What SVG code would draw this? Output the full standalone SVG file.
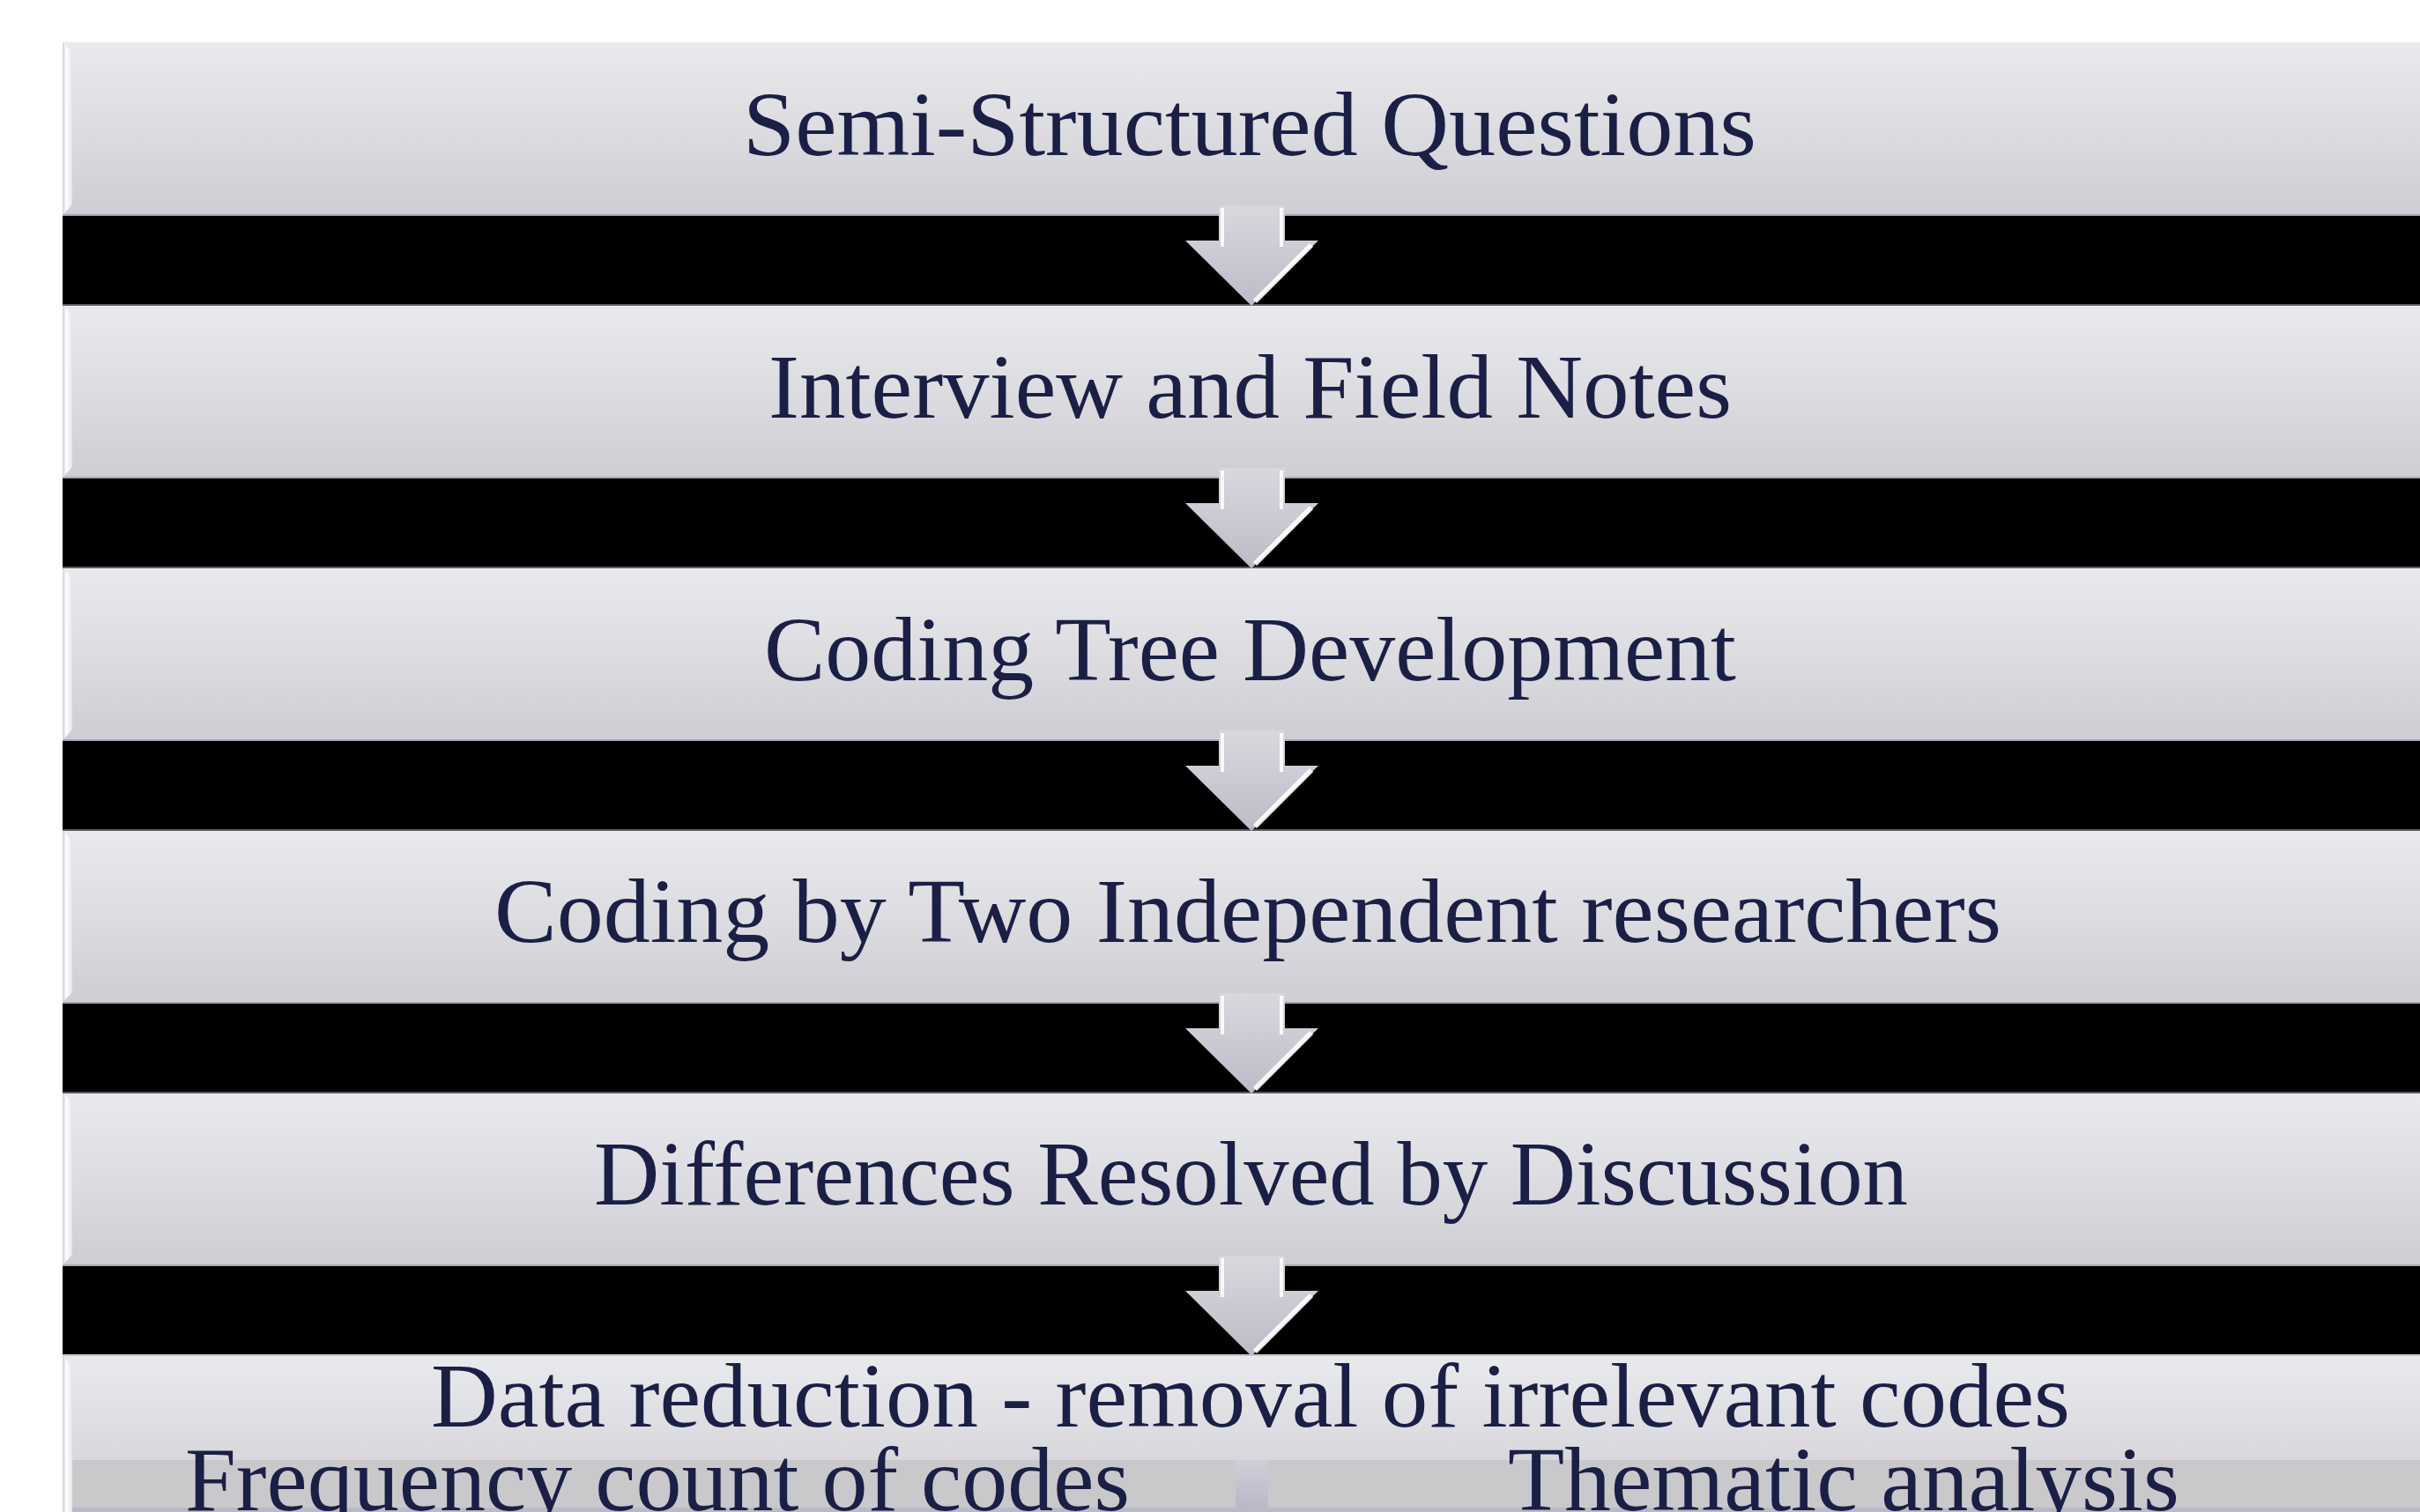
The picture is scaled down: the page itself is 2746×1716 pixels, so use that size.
<svg xmlns="http://www.w3.org/2000/svg" width="2746" height="1716" viewBox="0 0 2746 1716">
<defs>
<linearGradient id="barG" x1="0" y1="0" x2="0" y2="1">
<stop offset="0" stop-color="#e9eaee"/>
<stop offset="0.5" stop-color="#dcdce1"/>
<stop offset="1" stop-color="#cdcdd3"/>
</linearGradient>
<linearGradient id="bevG" x1="0" y1="0" x2="1" y2="0">
<stop offset="0" stop-color="#d0d0d8"/>
<stop offset="0.4" stop-color="#ffffff"/>
<stop offset="1" stop-color="#e4e4ea"/>
</linearGradient>
<linearGradient id="arrG" x1="0" y1="0" x2="0" y2="1">
<stop offset="0" stop-color="#d8d8de"/>
<stop offset="1" stop-color="#bcbcc8"/>
</linearGradient>
<linearGradient id="gapG" x1="0" y1="0" x2="0" y2="1">
<stop offset="0" stop-color="#d0d0d8"/>
<stop offset="1" stop-color="#b8b8c8"/>
</linearGradient>
<g id="arrow">
<polygon points="1383,233 1458,233 1458,273 1496,273 1420,347 1345,273 1383,273" fill="url(#arrG)"/>
<line x1="1387" y1="236" x2="1387" y2="280" stroke="#ffffff" stroke-width="4" opacity="0.9"/>
<line x1="1454" y1="236" x2="1454" y2="280" stroke="#ffffff" stroke-width="4" opacity="0.9"/>
<line x1="1488" y1="278" x2="1424" y2="342" stroke="#ffffff" stroke-width="6" opacity="0.9"/>
</g>
</defs>
<style>
.bar{fill:url(#barG)}
.bev{fill:url(#bevG)}
.band{fill:#000000}
.t{font-family:"Liberation Serif","Times New Roman",serif;font-size:103px;fill:#1b1f45;text-anchor:start}
</style>
<rect x="0" y="0" width="2746" height="1716" fill="#ffffff"/>
<g id="bands">
<rect class="band" x="71" y="244" width="2675" height="102"/>
<rect class="band" x="71" y="542" width="2675" height="102"/>
<rect class="band" x="71" y="840" width="2675" height="102"/>
<rect class="band" x="71" y="1138" width="2675" height="102"/>
<rect class="band" x="71" y="1436" width="2675" height="102"/>
</g>
<g id="node1">
<rect class="bar" x="71" y="48" width="2675" height="196"/>
<polygon class="bev" points="71,48 82,60 82,232 71,244"/>
<line x1="71" y1="244" x2="2746" y2="244" stroke="#a8a8b0" stroke-width="2"/>
<text class="t" x="843" y="176" textLength="1150" lengthAdjust="spacingAndGlyphs">Semi-Structured Questions</text>
</g>
<g id="node2">
<rect class="bar" x="71" y="346" width="2675" height="196"/>
<polygon class="bev" points="71,346 82,358 82,530 71,542"/>
<line x1="71" y1="346" x2="2746" y2="346" stroke="#5a5a60" stroke-width="2"/>
<line x1="71" y1="542" x2="2746" y2="542" stroke="#a8a8b0" stroke-width="2"/>
<text class="t" x="872" y="474" textLength="1093" lengthAdjust="spacingAndGlyphs">Interview and Field Notes</text>
</g>
<g id="node3">
<rect class="bar" x="71" y="644" width="2675" height="196"/>
<polygon class="bev" points="71,644 82,656 82,828 71,840"/>
<line x1="71" y1="644" x2="2746" y2="644" stroke="#5a5a60" stroke-width="2"/>
<line x1="71" y1="840" x2="2746" y2="840" stroke="#a8a8b0" stroke-width="2"/>
<text class="t" x="867" y="772" textLength="1103" lengthAdjust="spacingAndGlyphs">Coding Tree Development</text>
</g>
<g id="node4">
<rect class="bar" x="71" y="942" width="2675" height="196"/>
<polygon class="bev" points="71,942 82,954 82,1126 71,1138"/>
<line x1="71" y1="942" x2="2746" y2="942" stroke="#5a5a60" stroke-width="2"/>
<line x1="71" y1="1138" x2="2746" y2="1138" stroke="#a8a8b0" stroke-width="2"/>
<text class="t" x="561" y="1069" textLength="1710" lengthAdjust="spacingAndGlyphs">Coding by Two Independent researchers</text>
</g>
<g id="node5">
<rect class="bar" x="71" y="1240" width="2675" height="196"/>
<polygon class="bev" points="71,1240 82,1252 82,1424 71,1436"/>
<line x1="71" y1="1240" x2="2746" y2="1240" stroke="#5a5a60" stroke-width="2"/>
<line x1="71" y1="1436" x2="2746" y2="1436" stroke="#a8a8b0" stroke-width="2"/>
<text class="t" x="674" y="1367" textLength="1491" lengthAdjust="spacingAndGlyphs">Differences Resolved by Discussion</text>
</g>
<g id="node6">
<rect class="bar" x="71" y="1538" width="2675" height="178"/>
<polygon class="bev" points="71,1538 82,1550 82,1716 71,1716"/>
<line x1="71" y1="1538" x2="2746" y2="1538" stroke="#c8c8cc" stroke-width="2"/>
<rect x="82" y="1657" width="1320" height="54" fill="#c9c9cc"/>
<rect x="1439" y="1657" width="1307" height="54" fill="#c9c9cc"/>
<rect x="1402" y="1657" width="37" height="54" fill="url(#gapG)"/>
<rect x="82" y="1711" width="2664" height="5" fill="#b9b9c8"/>
<text class="t" x="489" y="1619" textLength="1860" lengthAdjust="spacingAndGlyphs">Data reduction - removal of irrelevant codes</text>
<text class="t" x="210" y="1714" textLength="1072" lengthAdjust="spacingAndGlyphs">Frequency count of codes</text>
<text class="t" x="1711" y="1714" textLength="762" lengthAdjust="spacingAndGlyphs">Thematic analysis</text>
</g>
<g id="connectors">
<use href="#arrow"/>
<use href="#arrow" y="298"/>
<use href="#arrow" y="596"/>
<use href="#arrow" y="894"/>
<use href="#arrow" y="1192"/>
</g>
</svg>
